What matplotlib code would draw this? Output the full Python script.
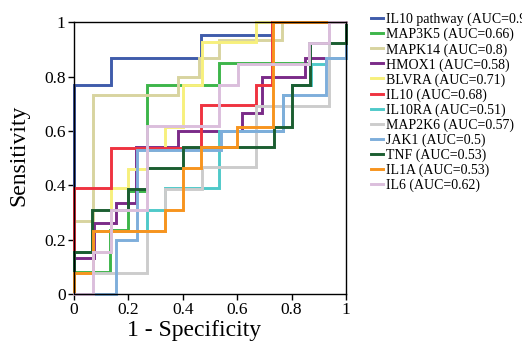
import matplotlib
matplotlib.use("Agg")
import matplotlib.pyplot as plt

plt.rcParams['font.family'] = ['Liberation Serif', 'DejaVu Serif']

# ROC curves (fpr = 1 - specificity, tpr = sensitivity)
il10p_fpr = [0, 0, 0.135, 0.135, 0.467, 0.467, 0.729, 0.729, 1]
il10p_tpr = [0, 0.769, 0.769, 0.867, 0.867, 0.955, 0.955, 1, 1]

map3k5_fpr = [0, 0, 0.133, 0.133, 0.2, 0.2, 0.27, 0.27, 0.534, 0.534, 0.865, 0.865, 0.936, 0.936, 1]
map3k5_tpr = [0, 0.082, 0.082, 0.236, 0.236, 0.38, 0.38, 0.769, 0.769, 0.849, 0.849, 0.923, 0.923, 1, 1]

mapk14_fpr = [0, 0, 0.071, 0.071, 0.383, 0.383, 0.46, 0.46, 0.534, 0.534, 0.766, 0.766, 1]
mapk14_tpr = [0, 0.27, 0.27, 0.733, 0.733, 0.8, 0.8, 0.867, 0.867, 0.935, 0.935, 1, 1]

hmox1_fpr = [0, 0, 0.074, 0.074, 0.156, 0.156, 0.228, 0.228, 0.384, 0.384, 0.616, 0.616, 0.692, 0.692, 0.849, 0.849, 1, 1]
hmox1_tpr = [0, 0.131, 0.131, 0.26, 0.26, 0.334, 0.334, 0.54, 0.54, 0.6, 0.6, 0.665, 0.665, 0.8, 0.8, 0.867, 0.867, 1]

blvra_fpr = [0, 0, 0.071, 0.071, 0.135, 0.135, 0.2, 0.2, 0.27, 0.27, 0.336, 0.336, 0.402, 0.402, 0.472, 0.472, 0.669, 0.669, 1]
blvra_tpr = [0, 0.076, 0.076, 0.156, 0.156, 0.389, 0.389, 0.46, 0.46, 0.53, 0.53, 0.615, 0.615, 0.769, 0.769, 0.926, 0.926, 1, 1]

il10_fpr = [0, 0, 0.135, 0.135, 0.467, 0.467, 0.669, 0.669, 0.729, 0.729, 1]
il10_tpr = [0, 0.389, 0.389, 0.536, 0.536, 0.696, 0.696, 0.77, 0.77, 1, 1]

il10ra_fpr = [0, 0, 0.071, 0.071, 0.27, 0.27, 0.334, 0.334, 0.534, 0.534, 0.769, 0.769, 0.8, 0.8, 0.873, 0.873, 0.925, 0.925, 1, 1]
il10ra_tpr = [0, 0.153, 0.153, 0.232, 0.232, 0.309, 0.309, 0.389, 0.389, 0.6, 0.6, 0.732, 0.732, 0.77, 0.77, 0.845, 0.845, 0.867, 0.867, 1]

map2k6_fpr = [0, 0, 0.27, 0.27, 0.334, 0.334, 0.471, 0.471, 0.669, 0.669, 0.936, 0.936, 1]
map2k6_tpr = [0, 0.076, 0.076, 0.232, 0.232, 0.386, 0.386, 0.466, 0.466, 0.692, 0.692, 1, 1]

jak1_fpr = [0, 0.156, 0.156, 0.232, 0.232, 0.54, 0.54, 0.769, 0.769, 0.927, 0.927, 1, 1]
jak1_tpr = [0, 0, 0.199, 0.199, 0.53, 0.53, 0.6, 0.6, 0.732, 0.732, 0.867, 0.867, 1]

tnf_fpr = [0, 0, 0.066, 0.066, 0.2, 0.2, 0.27, 0.27, 0.402, 0.402, 0.734, 0.734, 0.8, 0.8, 0.868, 0.868, 1, 1]
tnf_tpr = [0, 0.153, 0.153, 0.309, 0.309, 0.386, 0.386, 0.462, 0.462, 0.542, 0.542, 0.616, 0.616, 0.77, 0.77, 0.923, 0.923, 1]

il1a_fpr = [0, 0, 0.071, 0.071, 0.334, 0.334, 0.402, 0.402, 0.467, 0.467, 0.6, 0.6, 0.733, 0.733, 1]
il1a_tpr = [0, 0.076, 0.076, 0.232, 0.232, 0.309, 0.309, 0.462, 0.462, 0.542, 0.542, 0.616, 0.616, 1, 1]

il6_fpr = [0, 0.071, 0.071, 0.135, 0.135, 0.27, 0.27, 0.534, 0.534, 0.602, 0.602, 0.865, 0.865, 0.936, 0.936, 1]
il6_tpr = [0, 0, 0.156, 0.156, 0.309, 0.309, 0.617, 0.617, 0.769, 0.769, 0.847, 0.847, 0.923, 0.923, 1, 1]

labels = ["IL10 pathway (AUC=0.9)", "MAP3K5 (AUC=0.66)", "MAPK14 (AUC=0.8)", "HMOX1 (AUC=0.58)",
          "BLVRA (AUC=0.71)", "IL10 (AUC=0.68)", "IL10RA (AUC=0.51)", "MAP2K6 (AUC=0.57)",
          "JAK1 (AUC=0.5)", "TNF (AUC=0.53)", "IL1A (AUC=0.53)", "IL6 (AUC=0.62)"]
colors = ["#3f5cab", "#3db54a", "#d8d49f", "#7b2b88", "#f7f07c", "#ef3340",
          "#4fc9c9", "#cccccc", "#7eaedb", "#1b5e31", "#f7941e", "#dbbedc"]

curves = [(il10p_fpr, il10p_tpr), (map3k5_fpr, map3k5_tpr), (mapk14_fpr, mapk14_tpr),
          (hmox1_fpr, hmox1_tpr), (blvra_fpr, blvra_tpr), (il10_fpr, il10_tpr),
          (il10ra_fpr, il10ra_tpr), (map2k6_fpr, map2k6_tpr), (jak1_fpr, jak1_tpr),
          (tnf_fpr, tnf_tpr), (il1a_fpr, il1a_tpr), (il6_fpr, il6_tpr)]

fig = plt.figure(figsize=(5.22, 3.45), dpi=100)
ax = fig.add_axes([74/522, 51/345, 272/522, 271.7/345])

handles = []
for (fpr, tpr), c, lab in zip(curves, colors, labels):
    h, = ax.plot(fpr, tpr, color=c, lw=2.1, label=lab, clip_on=False, solid_joinstyle='miter')
    handles.append(h)

ax.set_xlim(0, 1)
ax.set_ylim(0, 1)
ticks = [0, 0.2, 0.4, 0.6, 0.8, 1]
tick_labels = ["0", "0.2", "0.4", "0.6", "0.8", "1"]
ax.set_xticks(ticks)
ax.set_xticklabels(tick_labels)
ax.set_yticks(ticks)
ax.set_yticklabels(tick_labels)
ax.tick_params(direction='out', length=4, width=1, labelsize=12.5, pad=2)
for s in ax.spines.values():
    s.set_linewidth(1)

ax.set_xlabel("1 - Specificity", fontsize=17)
ax.xaxis.set_label_coords(0.441, -0.095)
ax.set_ylabel("Sensitivity", fontsize=17)
ax.yaxis.set_label_coords(-0.165, 0.51)

fig.legend(handles, labels, loc='upper left', bbox_to_anchor=(371/522, (345-13)/345),
           frameon=False, fontsize=10, handlelength=0.85, handletextpad=0.2,
           labelspacing=0.11, borderpad=0, borderaxespad=0)

fig.savefig("out.png", dpi=100)
